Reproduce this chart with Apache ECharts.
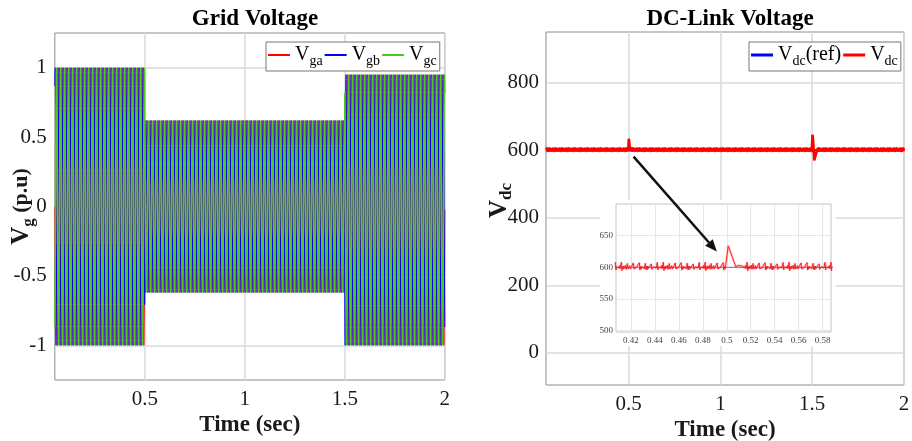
<!DOCTYPE html>
<html>
<head>
<meta charset="utf-8">
<title>Grid Voltage and DC-Link Voltage</title>
<script src="https://cdn.jsdelivr.net/npm/echarts@6/dist/echarts.min.js"></script>
<style>
  html, body { margin: 0; padding: 0; background: #fff; }
  #chart { width: 912px; height: 441px; }
</style>
</head>
<body>
<div id="chart"></div>
<script>
// ---- Grid voltage: three-phase supply with a sag between 0.5 s and 1.5 s ----
const timeStart = 0.05;
const timeEnd = 2.0;
const gridFreq = 50;                       // Hz
const segmentBounds = [0.05, 0.5, 1.5, 2.0];
const segmentPosPeak = [1.0, 0.62, 0.95];  // p.u.
const segmentNegPeak = [-1.0, -0.62, -1.0];
const phaseNames = ['Vga', 'Vgb', 'Vgc'];
const phaseShiftDeg = [0, -120, 120];
const phaseColors = ['#ff0000', '#0000ff', '#4ccc1a'];
const phaseWidths = [1, 1, 1.5];

// ---- DC-link voltage ----
const vdcRef = 600;
const rippleA = [0, 2, -1.5, 1, 7, -3.5, 0.5, -2, 1.5, -1];   // 0.5 ms steps
const rippleB = [0.8, -0.6, 0, 1.2, -1.6, 0.4, -0.8];
const rippleStep = 0.0005;
// transient at the sag start
const eventATime = [0.5, 0.5012, 0.5045, 0.5075, 0.5095, 0.513];
const eventAVolt = [600, 634, 617, 601, 603, 602];
// transient at the voltage recovery
const eventBTime = [1.5, 1.5015, 1.5045, 1.508, 1.511, 1.5145, 1.521, 1.528];
const eventBVolt = [600, 646, 632, 600, 570, 567, 590, 600];

// ---- axis ticks ----
const xTicks = [0.5, 1, 1.5, 2];
const vgTicks = [-1, -0.5, 0, 0.5, 1];
const vdcTicks = [0, 200, 400, 600, 800];
const zoomXTicks = [0.42, 0.44, 0.46, 0.48, 0.5, 0.52, 0.54, 0.56, 0.58];
const zoomYTicks = [500, 550, 600, 650];

const SERIF = '"Liberation Serif", "Times New Roman", serif';

function segmentIndex(t) {
  if (t < segmentBounds[1]) return 0;
  if (t < segmentBounds[2]) return 1;
  return 2;
}

function buildPhase(k) {
  const samplesPerCycle = 24;
  const dt = 1 / (gridFreq * samplesPerCycle);
  const n = Math.round((timeEnd - timeStart) / dt);
  const shift = phaseShiftDeg[k] * Math.PI / 180;
  const pts = [];
  for (let i = 0; i <= n; i++) {
    const t = timeStart + i * dt;
    const s = segmentIndex(t);
    const amp = (segmentPosPeak[s] - segmentNegPeak[s]) / 2;
    const off = (segmentPosPeak[s] + segmentNegPeak[s]) / 2;
    pts.push([t, off + amp * Math.sin(2 * Math.PI * gridFreq * t + shift)]);
  }
  return pts;
}

function buildVdc() {
  const pts = [];
  const n = Math.round((timeEnd - timeStart) / rippleStep);
  const inA = t => t >= eventATime[0] && t <= eventATime[eventATime.length - 1];
  const inB = t => t >= eventBTime[0] && t <= eventBTime[eventBTime.length - 1];
  let doneA = false, doneB = false;
  for (let i = 0; i <= n; i++) {
    const t = timeStart + i * rippleStep;
    if (inA(t)) {
      if (!doneA) { eventATime.forEach((et, j) => pts.push([et, eventAVolt[j]])); doneA = true; }
      continue;
    }
    if (inB(t)) {
      if (!doneB) { eventBTime.forEach((et, j) => pts.push([et, eventBVolt[j]])); doneB = true; }
      continue;
    }
    pts.push([t, vdcRef + rippleA[i % rippleA.length] + rippleB[i % rippleB.length]]);
  }
  return pts;
}

const phaseData = phaseNames.map((_, k) => buildPhase(k));
const vdcData = buildVdc();
const vdcRefData = [[timeStart, vdcRef], [timeEnd, vdcRef]];
const zoomVdc = vdcData.filter(p => p[0] >= 0.405 && p[0] <= 0.59);

const subRich = {
  v: { fontSize: 20, fontFamily: SERIF, color: '#000', lineHeight: 24 },
  s: { fontSize: 14, fontFamily: SERIF, color: '#000', padding: [12, 0, 0, 0] }
};
const legendLabel = {
  'Vga': '{v|V}{s|ga}', 'Vgb': '{v|V}{s|gb}', 'Vgc': '{v|V}{s|gc}',
  'Vdc(ref)': '{v|V}{s|dc}{v|(ref)}', 'Vdc': '{v|V}{s|dc}'
};

const tickLabel = { fontFamily: SERIF, fontSize: 21, color: '#1a1a1a' };
const gridLine = { show: true, lineStyle: { color: '#dadada', width: 1.5 } };
const axisNameStyle = { fontFamily: SERIF, fontSize: 23, fontWeight: 'bold', color: '#1a1a1a' };
const nameRich = {
  v: { fontFamily: SERIF, fontSize: 25, fontWeight: 'bold', color: '#1a1a1a', lineHeight: 28 },
  s: { fontFamily: SERIF, fontSize: 17, fontWeight: 'bold', color: '#1a1a1a', padding: [14, 0, 0, 0] },
  p: { fontFamily: SERIF, fontSize: 22, fontWeight: 'bold', color: '#1a1a1a' }
};

function mainX(gridIndex, nameGap) {
  return {
    type: 'value', gridIndex, min: timeStart, max: timeEnd,
    name: 'Time (sec)', nameLocation: 'middle', nameGap, nameMoveOverlap: false,
    nameTextStyle: axisNameStyle,
    axisLine: { show: false },
    axisTick: { show: false, customValues: xTicks },
    axisLabel: Object.assign({ customValues: xTicks, margin: 9, showMaxLabel: true }, tickLabel),
    splitLine: gridLine, z: 0
  };
}

const option = {
  animation: false,
  backgroundColor: '#fff',
  title: [
    { text: 'Grid Voltage', left: 250, top: 3, textAlign: 'center',
      textStyle: { fontFamily: SERIF, fontSize: 23, fontWeight: 'bold', color: '#000' } },
    { text: 'DC-Link Voltage', left: 725, top: 3, textAlign: 'center',
      textStyle: { fontFamily: SERIF, fontSize: 23, fontWeight: 'bold', color: '#000' } }
  ],
  legend: [
    { data: phaseNames, left: 266, top: 42, orient: 'horizontal',
      icon: 'rect', itemWidth: 22, itemHeight: 2, itemGap: 2,
      padding: [3, 3, 3, 2], borderColor: '#777', borderWidth: 1, backgroundColor: '#fff',
      formatter: n => legendLabel[n], textStyle: { rich: subRich }, selectedMode: false, z: 10 },
    { data: ['Vdc(ref)', 'Vdc'], left: 749, top: 42, orient: 'horizontal',
      icon: 'rect', itemWidth: 22, itemHeight: 3, itemGap: 2,
      padding: [3, 3, 3, 2], borderColor: '#777', borderWidth: 1, backgroundColor: '#fff',
      formatter: n => legendLabel[n], textStyle: { rich: subRich }, selectedMode: false, z: 10 }
  ],
  grid: [
    { left: 54.833, top: 33, width: 390, height: 347, show: true, borderColor: '#8c8c8c', borderWidth: 1,
      outerBoundsMode: 'none', containLabel: false, z: 0 },
    { left: 546, top: 32, width: 358, height: 353, show: true, borderColor: '#8c8c8c', borderWidth: 1,
      outerBoundsMode: 'none', containLabel: false, z: 0 },
    { left: 616, top: 204, width: 215, height: 128, show: true, borderColor: '#c4c4c4', borderWidth: 1,
      backgroundColor: '#fff', outerBoundsMode: 'none', containLabel: false, z: 6 }
  ],
  xAxis: [
    mainX(0, 34),
    mainX(1, 34),
    { type: 'value', gridIndex: 2, min: 0.4075, max: 0.587, z: 6,
      axisLine: { show: false },
      axisTick: { show: false, customValues: zoomXTicks },
      axisLabel: { customValues: zoomXTicks, margin: 4, fontFamily: SERIF, fontSize: 9, color: '#444' },
      splitLine: { show: true, lineStyle: { color: '#e6e6e6', width: 1 } } }
  ],
  yAxis: [
    { type: 'value', gridIndex: 0, min: -1.25, max: 1.25, z: 0,
      name: '{v|V}{s|g}{p| (p.u)}', nameLocation: 'middle', nameGap: 18, nameRotate: 90,
      nameMoveOverlap: false, nameTextStyle: { rich: nameRich },
      axisLine: { show: false },
      axisTick: { show: false, customValues: vgTicks },
      axisLabel: Object.assign({ customValues: vgTicks, margin: 8 }, tickLabel),
      splitLine: gridLine },
    { type: 'value', gridIndex: 1, min: -95, max: 950, z: 0,
      name: '{v|V}{s|dc}', nameLocation: 'middle', nameGap: 31, nameRotate: 90,
      nameMoveOverlap: false, nameTextStyle: { padding: [0, 0, 0, 16], rich: nameRich },
      axisLine: { show: false },
      axisTick: { show: false, customValues: vdcTicks },
      axisLabel: Object.assign({ customValues: vdcTicks, margin: 7 }, tickLabel),
      splitLine: gridLine },
    { type: 'value', gridIndex: 2, min: 498, max: 700, z: 6,
      axisLine: { show: false },
      axisTick: { show: false, customValues: zoomYTicks },
      axisLabel: { customValues: zoomYTicks, margin: 3, fontFamily: SERIF, fontSize: 9, color: '#444' },
      splitLine: { show: true, lineStyle: { color: '#e6e6e6', width: 1 } } }
  ],
  series: [
    ...phaseNames.map((name, k) => ({
      name, type: 'line', xAxisIndex: 0, yAxisIndex: 0, data: phaseData[k],
      showSymbol: false, symbol: 'none', color: phaseColors[k],
      lineStyle: { width: phaseWidths[k], color: phaseColors[k] }, z: 2 + k, silent: true
    })),
    { name: 'Vdc(ref)', type: 'line', xAxisIndex: 1, yAxisIndex: 1, data: vdcRefData,
      showSymbol: false, symbol: 'none', color: '#0000ff', lineStyle: { width: 2, color: '#0000ff' }, z: 2 },
    { name: 'Vdc', type: 'line', xAxisIndex: 1, yAxisIndex: 1, data: vdcData,
      showSymbol: false, symbol: 'none', color: '#ff0000', lineStyle: { width: 2.6, color: '#ff0000' }, z: 3 },
    { name: 'Vdc(ref) zoom', type: 'line', xAxisIndex: 2, yAxisIndex: 2, data: vdcRefData,
      showSymbol: false, symbol: 'none', lineStyle: { width: 1.2, color: '#8080ff' }, z: 7 },
    { name: 'Vdc zoom halo', type: 'line', xAxisIndex: 2, yAxisIndex: 2, data: zoomVdc,
      showSymbol: false, symbol: 'none', lineStyle: { width: 2.5, color: 'rgba(255,60,60,0.25)' }, z: 7 },
    { name: 'Vdc zoom', type: 'line', xAxisIndex: 2, yAxisIndex: 2, data: zoomVdc,
      showSymbol: false, symbol: 'none', lineStyle: { width: 1, color: 'rgba(255,20,20,0.9)' }, z: 8 }
  ]
};

const chart = echarts.init(document.getElementById('chart'), null, { renderer: 'canvas' });
chart.setOption(option);

// White panel behind the zoomed view and the arrow pointing to it
const insetPanel = { x: 600, y: 200, width: 236, height: 146 };
const arrowFrom = chart.convertToPixel({ gridIndex: 1 }, [0.527, 581]);
const arrowTo = chart.convertToPixel({ gridIndex: 2 }, [0.4917, 625]);
const dx = arrowTo[0] - arrowFrom[0], dy = arrowTo[1] - arrowFrom[1];
const len = Math.sqrt(dx * dx + dy * dy);
const ux = dx / len, uy = dy / len;
const headLen = 12, headHalf = 5;
const bx = arrowTo[0] - ux * headLen, by = arrowTo[1] - uy * headLen;

chart.setOption({
  graphic: [
    { type: 'rect', z: 5, silent: true,
      shape: insetPanel, style: { fill: '#fff' } },
    { type: 'line', z: 9, silent: true,
      shape: { x1: arrowFrom[0], y1: arrowFrom[1], x2: bx, y2: by },
      style: { stroke: '#111', lineWidth: 2.5 } },
    { type: 'polygon', z: 9, silent: true,
      shape: { points: [arrowTo, [bx - uy * headHalf, by + ux * headHalf], [bx + uy * headHalf, by - ux * headHalf]] },
      style: { fill: '#111' } }
  ]
});
</script>
</body>
</html>
